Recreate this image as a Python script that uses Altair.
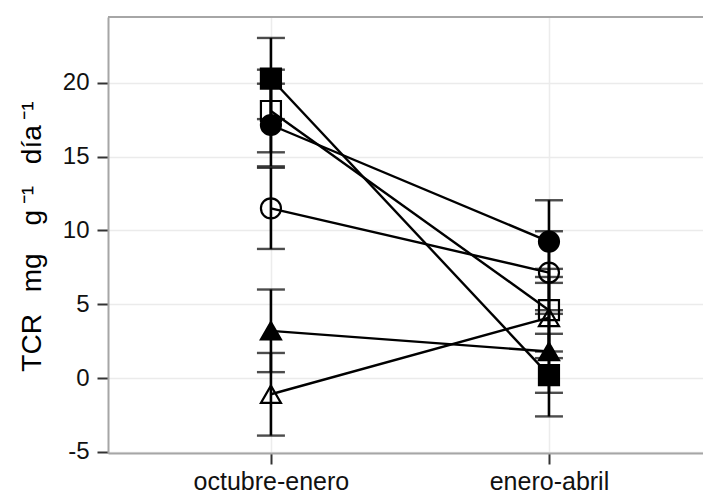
import altair as alt
import pandas as pd

# Periods on the x axis
periods = ["octubre-enero", "enero-abril"]

# One entry per treatment: marker shape and whether it is filled
series = ["A", "B", "C", "D", "E", "F"]
shapes = ["square", "square", "circle", "circle", "triangle-up", "triangle-up"]
fills = ["black", "transparent", "black", "transparent", "black", "transparent"]
sizes = [400, 400, 440, 440, 660, 660]

# Mean TCR and standard error per period
mean_oct = [20.3, 18.1, 17.15, 11.5, 3.2, -1.1]
mean_abr = [0.2, 4.6, 9.25, 7.15, 1.8, 4.1]
se_oct = [2.75, 2.8, 2.8, 2.75, 2.8, 2.8]
se_abr = [2.8, 2.8, 2.8, 2.8, 2.8, 2.75]

# Major ticks labelled, minor ticks only gridded
y_ticks = [-5, -2.5, 0, 2.5, 5, 7.5, 10, 12.5, 15, 17.5, 20, 22.5]

rows = []
for i, s in enumerate(series):
    for j, (m, e) in enumerate([(mean_oct[i], se_oct[i]), (mean_abr[i], se_abr[i])]):
        rows.append({"serie": s, "periodo": periods[j], "pos": j + 1,
                     "tcr": m, "lo": m - e, "hi": m + e})
df = pd.DataFrame(rows)

W, H = 595, 436
FONT = "Liberation Sans"

x_scale = alt.Scale(domain=[0.414, 2.554], nice=False, zero=False)
y_scale = alt.Scale(domain=[-5.08, 24.47], nice=False, zero=False)

label_expr = " : ".join(
    [f"datum.value == {k + 1} ? '{p}'" for k, p in enumerate(periods)] + ["''"]
)

x_axis = alt.Axis(
    values=[1, 2], labelExpr=label_expr, title=None,
    labelFont=FONT, labelFontSize=25, labelColor="#111111", labelPadding=5,
    tickColor="#333333", tickWidth=2, tickSize=11,
    domainColor="#a6a6a6", domainWidth=2,
    grid=True, gridColor="#ececec", gridWidth=1.5,
)
y_axis = alt.Axis(
    values=y_ticks,
    labelExpr="datum.value % 5 == 0 ? '' + datum.value : ''",
    title="TCR\u2002\u00a0mg\u2003g\u2009\u207b\u00b9\u2002\u00a0día\u2009\u207b\u00b9",
    titleFont=FONT, titleFontSize=28, titleFontWeight="normal", titleColor="#000000",
    titleAngle=-90, titleX=-76, titleY=219, titleAlign="center", titleBaseline="middle",
    labelFont=FONT, labelFontSize=24, labelColor="#111111", labelPadding=8,
    tickColor={"expr": "datum.value % 5 == 0 ? '#333333' : 'transparent'"},
    tickWidth=2, tickSize=11,
    domainColor="#a6a6a6", domainWidth=2,
    grid=True,
    gridColor={"expr": "datum.value % 5 == 0 ? '#ebebeb' : '#f4f4f4'"},
    gridWidth=1.5,
)

base = alt.Chart(df)

lines = base.mark_line(color="black", strokeWidth=2.4).encode(
    x=alt.X("pos:Q", scale=x_scale, axis=x_axis),
    y=alt.Y("tcr:Q", scale=y_scale, axis=y_axis),
    detail="serie:N",
)

bars = base.mark_rule(color="black", strokeWidth=2.6).encode(
    x=alt.X("pos:Q", scale=x_scale),
    y=alt.Y("lo:Q", scale=y_scale),
    y2="hi:Q",
)

caps_hi = base.mark_tick(color="black", orient="horizontal", size=28, thickness=2.4).encode(
    x=alt.X("pos:Q", scale=x_scale),
    y=alt.Y("hi:Q", scale=y_scale),
)
caps_lo = base.mark_tick(color="black", orient="horizontal", size=28, thickness=2.4).encode(
    x=alt.X("pos:Q", scale=x_scale),
    y=alt.Y("lo:Q", scale=y_scale),
)

points = base.mark_point(stroke="black", strokeWidth=2.2, opacity=1).encode(
    x=alt.X("pos:Q", scale=x_scale),
    y=alt.Y("tcr:Q", scale=y_scale),
    shape=alt.Shape("serie:N", scale=alt.Scale(domain=series, range=shapes), legend=None),
    fill=alt.Fill("serie:N", scale=alt.Scale(domain=series, range=fills), legend=None),
    size=alt.Size("serie:N", scale=alt.Scale(domain=series, range=sizes), legend=None),
)

# Top edge of the panel
top_edge = alt.Chart(pd.DataFrame({"a": [0]})).mark_rule(color="#a6a6a6", strokeWidth=2).encode(
    x=alt.value(0), x2=alt.value(W), y=alt.value(0)
)

chart = (
    alt.layer(lines, bars, caps_hi, caps_lo, points, top_edge)
    .properties(width=W, height=H, background="white",
                padding={"left": 108, "top": 17, "right": 0, "bottom": 42},
                autosize=alt.AutoSizeParams(type="none"))
    .configure_view(stroke=None)
)

chart.save("out.html", embed_options={"renderer": "svg", "actions": False})
